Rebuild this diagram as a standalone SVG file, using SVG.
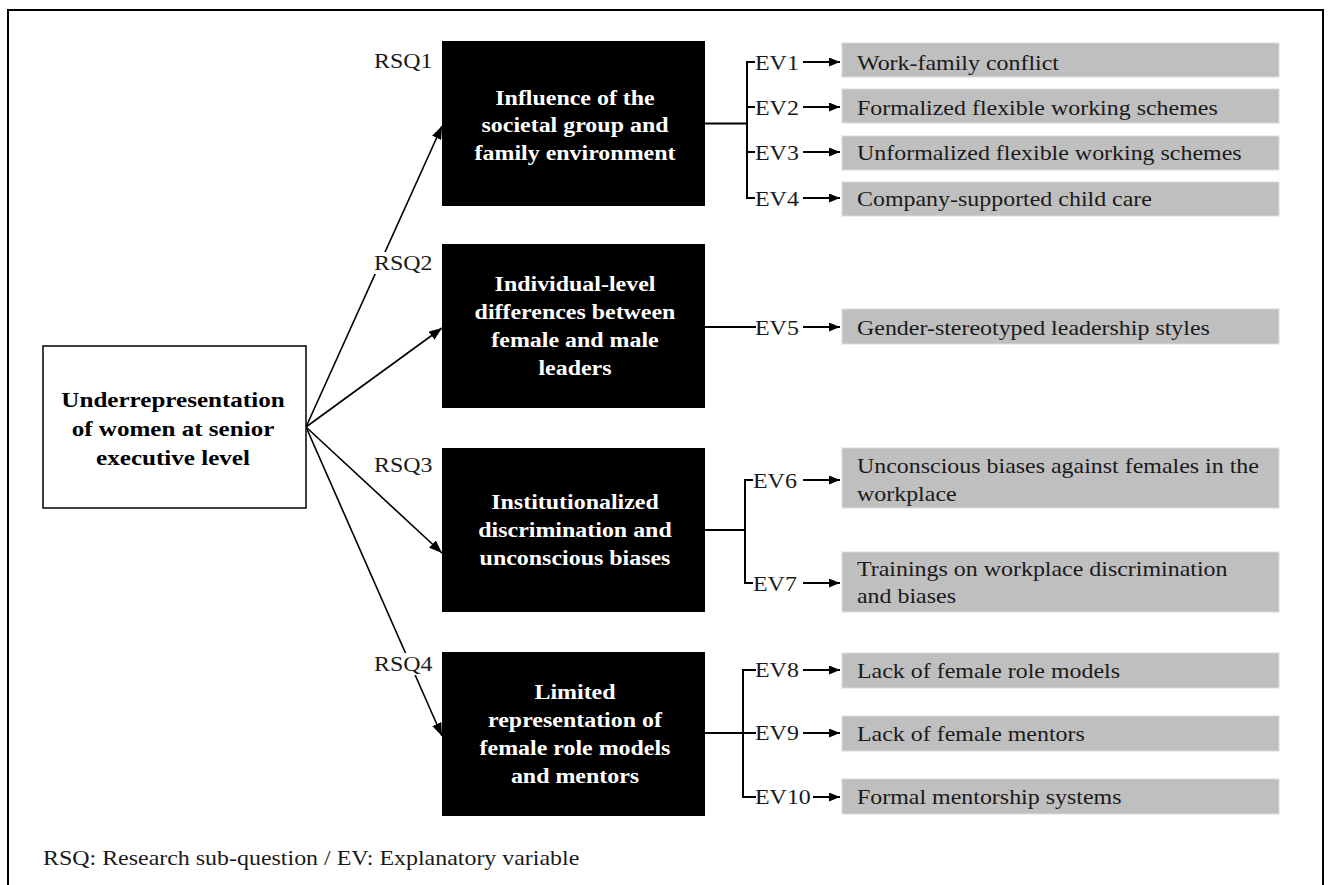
<svg xmlns="http://www.w3.org/2000/svg" width="1328" height="885" viewBox="0 0 1328 885">
<style>
text { font-family: "Liberation Serif", "Times New Roman", serif; }
.b { font-weight: bold; font-size: 21px; fill: #fff; text-anchor: middle; }
.s { font-weight: bold; font-size: 22px; fill: #000; text-anchor: middle; }
.r { font-size: 21px; fill: #1a1a1a; }
.blk { fill: #000; }
.gray { fill: #bfbfbf; stroke: #dadada; stroke-width: 1; }
.ln { stroke: #000; stroke-width: 2; fill: none; }
.ar { stroke: #000; stroke-width: 1.6; fill: none; marker-end: url(#ah); }
.ea { stroke: #000; stroke-width: 2; fill: none; marker-end: url(#ah2); }
.bg { fill: #fff; }
</style>
<defs>
<marker id="ah" markerWidth="13" markerHeight="10" refX="13" refY="5" orient="auto" markerUnits="userSpaceOnUse"><path d="M0,0 L13,5 L0,10 z" fill="#000"/></marker>
<marker id="ah2" markerWidth="11" markerHeight="9" refX="11" refY="4.5" orient="auto" markerUnits="userSpaceOnUse"><path d="M0,0 L11,4.5 L0,9 z" fill="#000"/></marker>
</defs>
<rect x="0" y="0" width="1328" height="885" fill="#fff"/>
<rect x="8" y="10" width="1315" height="890" fill="none" stroke="#000" stroke-width="2"/>

<g id="connectors">
<line class="ar" x1="306" y1="427" x2="442" y2="126"/>
<line class="ar" x1="306" y1="427" x2="442" y2="328"/>
<line class="ar" x1="306" y1="427" x2="442" y2="553"/>
<line class="ar" x1="306" y1="427" x2="442" y2="736"/>
<path class="ln" d="M705,123.5 H747 M755,62 H747 V198 H755 M747,107 H755 M747,152 H755"/>
<path class="ln" d="M705,327 H756"/>
<path class="ln" d="M705,530 H745 M753,480 H745 V583 H753"/>
<path class="ln" d="M705,733 H756 M756,670 H743 V797 H756"/>
<line class="ea" x1="803" y1="62" x2="840" y2="62"/>
<line class="ea" x1="803" y1="107" x2="840" y2="107"/>
<line class="ea" x1="803" y1="152" x2="840" y2="152"/>
<line class="ea" x1="803" y1="198" x2="840" y2="198"/>
<line class="ea" x1="803" y1="327" x2="840" y2="327"/>
<line class="ea" x1="803" y1="480" x2="840" y2="480"/>
<line class="ea" x1="803" y1="583" x2="840" y2="583"/>
<line class="ea" x1="803" y1="670" x2="840" y2="670"/>
<line class="ea" x1="803" y1="733" x2="840" y2="733"/>
<line class="ea" x1="813" y1="797" x2="840" y2="797"/>
</g>

<g id="rsq-labels">
<text class="r" fill="#000" transform="translate(374,68) scale(1.14,1)">RSQ1</text>
<rect class="bg" x="372" y="252" width="62" height="22"/>
<text class="r" transform="translate(374,270) scale(1.14,1)">RSQ2</text>
<text class="r" transform="translate(374,472) scale(1.14,1)">RSQ3</text>
<rect class="bg" x="372" y="653" width="62" height="22"/>
<text class="r" transform="translate(374,671) scale(1.14,1)">RSQ4</text>
</g>

<g id="root">
<rect x="43" y="346" width="263" height="162" fill="#fff" stroke="#000" stroke-width="1.5"/>
<text class="s" transform="translate(173,407) scale(1.14,1)"><tspan x="0" y="0">Underrepresentation</tspan><tspan x="0" y="29">of women at senior</tspan><tspan x="0" y="58">executive level</tspan></text>
</g>

<g id="rsq1">
<rect class="blk" x="442" y="41" width="263" height="165"/>
<text class="b" transform="translate(575,105) scale(1.14,1)"><tspan x="0" y="0">Influence of the</tspan><tspan x="0" y="27.5">societal group and</tspan><tspan x="0" y="55">family environment</tspan></text>
</g>
<g id="rsq2">
<rect class="blk" x="442" y="244" width="263" height="164"/>
<text class="b" transform="translate(575,291) scale(1.14,1)"><tspan x="0" y="0">Individual-level</tspan><tspan x="0" y="28">differences between</tspan><tspan x="0" y="56">female and male</tspan><tspan x="0" y="84">leaders</tspan></text>
</g>
<g id="rsq3">
<rect class="blk" x="442" y="448" width="263" height="164"/>
<text class="b" transform="translate(575,509) scale(1.14,1)"><tspan x="0" y="0">Institutionalized</tspan><tspan x="0" y="28">discrimination and</tspan><tspan x="0" y="56">unconscious biases</tspan></text>
</g>
<g id="rsq4">
<rect class="blk" x="442" y="652" width="263" height="164"/>
<text class="b" transform="translate(575,699) scale(1.14,1)"><tspan x="0" y="0">Limited</tspan><tspan x="0" y="28">representation of</tspan><tspan x="0" y="56">female role models</tspan><tspan x="0" y="84">and mentors</tspan></text>
</g>

<g id="ev1">
<text class="r" transform="translate(755,70) scale(1.14,1)">EV1</text>
<rect class="gray" x="842" y="43" width="437" height="34"/>
<text class="r" transform="translate(857,70) scale(1.14,1)">Work-family conflict</text>
</g>
<g id="ev2">
<text class="r" transform="translate(755,115) scale(1.14,1)">EV2</text>
<rect class="gray" x="842" y="89" width="437" height="34"/>
<text class="r" transform="translate(857,115) scale(1.14,1)">Formalized flexible working schemes</text>
</g>
<g id="ev3">
<text class="r" transform="translate(755,160) scale(1.14,1)">EV3</text>
<rect class="gray" x="842" y="136" width="437" height="34"/>
<text class="r" transform="translate(857,160) scale(1.14,1)">Unformalized flexible working schemes</text>
</g>
<g id="ev4">
<text class="r" transform="translate(755,206) scale(1.14,1)">EV4</text>
<rect class="gray" x="842" y="182" width="437" height="34"/>
<text class="r" transform="translate(857,206) scale(1.14,1)">Company-supported child care</text>
</g>
<g id="ev5">
<text class="r" transform="translate(755,335) scale(1.14,1)">EV5</text>
<rect class="gray" x="842" y="309" width="437" height="35"/>
<text class="r" transform="translate(857,335) scale(1.14,1)">Gender-stereotyped leadership styles</text>
</g>
<g id="ev6">
<text class="r" transform="translate(753,488) scale(1.14,1)">EV6</text>
<rect class="gray" x="842" y="448" width="437" height="60"/>
<text class="r" transform="translate(857,473) scale(1.14,1)"><tspan x="0" y="0">Unconscious biases against females in the</tspan><tspan x="0" y="28">workplace</tspan></text>
</g>
<g id="ev7">
<text class="r" transform="translate(753,591) scale(1.14,1)">EV7</text>
<rect class="gray" x="842" y="552" width="437" height="60"/>
<text class="r" transform="translate(857,576) scale(1.14,1)"><tspan x="0" y="0">Trainings on workplace discrimination</tspan><tspan x="0" y="27">and biases</tspan></text>
</g>
<g id="ev8">
<text class="r" transform="translate(755,677) scale(1.14,1)">EV8</text>
<rect class="gray" x="842" y="653" width="437" height="35"/>
<text class="r" transform="translate(857,678) scale(1.14,1)">Lack of female role models</text>
</g>
<g id="ev9">
<text class="r" transform="translate(755,740) scale(1.14,1)">EV9</text>
<rect class="gray" x="842" y="716" width="437" height="35"/>
<text class="r" transform="translate(857,741) scale(1.14,1)">Lack of female mentors</text>
</g>
<g id="ev10">
<text class="r" transform="translate(755,804) scale(1.14,1)">EV10</text>
<rect class="gray" x="842" y="779" width="437" height="35"/>
<text class="r" transform="translate(857,804) scale(1.14,1)">Formal mentorship systems</text>
</g>

<text class="r" transform="translate(43,865) scale(1.14,1)">RSQ: Research sub-question / EV: Explanatory variable</text>
</svg>
